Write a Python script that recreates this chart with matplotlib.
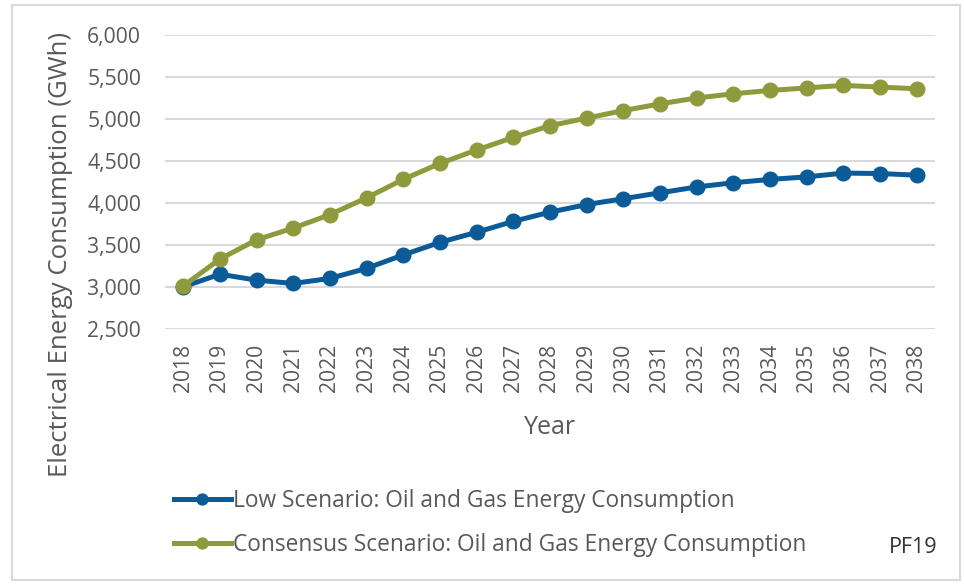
import matplotlib.pyplot as plt
from matplotlib.patches import Rectangle

plt.rcParams['font.family'] = ['Open Sans', 'DejaVu Sans']

years = list(range(2018, 2039))
low = [3000, 3150, 3080, 3040, 3100, 3220, 3380, 3530, 3650, 3780, 3890,
       3980, 4050, 4120, 4190, 4240, 4280, 4310, 4355, 4350, 4330]
consensus = [3010, 3330, 3560, 3700, 3860, 4060, 4280, 4470, 4630, 4780, 4920,
             5010, 5100, 5180, 5250, 5300, 5340, 5370, 5400, 5380, 5360]
yticks = [2500, 3000, 3500, 4000, 4500, 5000, 5500, 6000]

blue = '#0B5B98'
olive = '#8E9A3C'
grey = '#595959'

fig = plt.figure(figsize=(9.64, 5.84), dpi=100)
ax = fig.add_axes([0.171, 0.437, 0.799, 0.503])

l1, = ax.plot(years, low, color=blue, lw=3.6, marker='o', ms=10.5,
              label='Low Scenario: Oil and Gas Energy Consumption')
l2, = ax.plot(years, consensus, color=olive, lw=3.6, marker='o', ms=10.5,
              label='Consensus Scenario: Oil and Gas Energy Consumption')

ax.set_xlim(2017.5, 2038.5)
ax.set_ylim(2500, 6000)
ax.set_yticks(yticks)
ax.set_yticklabels([f'{v:,}' for v in yticks])
ax.set_xticks(years)
ax.set_xticklabels([str(y) for y in years], rotation=90)
ax.tick_params(length=0, labelsize=15.2, colors=grey)
ax.tick_params(axis='y', pad=17)
ax.tick_params(axis='x', pad=11)
ax.grid(axis='y', color='#D9D9D9', lw=1.5)
ax.set_axisbelow(True)
for s in ax.spines.values():
    s.set_visible(False)

ax.set_xlabel('Year', fontsize=18, color=grey, labelpad=16)
fig.text(0.063, 0.565, 'Electrical Energy Consumption (GWh)', rotation=90,
         fontsize=18.5, color=grey, ha='center', va='center')

leg = fig.legend(handles=[l1, l2], loc='upper left', bbox_to_anchor=(0.171, 0.178),
                 frameon=False, fontsize=16.4, handlelength=2.5, handletextpad=0.1,
                 labelspacing=0.85, borderaxespad=0, markerscale=0.75)
for t in leg.get_texts():
    t.set_color(grey)

fig.text(0.973, 0.063, 'PF19', fontsize=15.5, color='#333333', ha='right', va='center')

fig.patches.append(Rectangle((0.012, 0.007), 0.984, 0.984, transform=fig.transFigure,
                             fill=False, edgecolor='#D9D9D9', lw=1.5))

fig.savefig('out.png', dpi=100)
